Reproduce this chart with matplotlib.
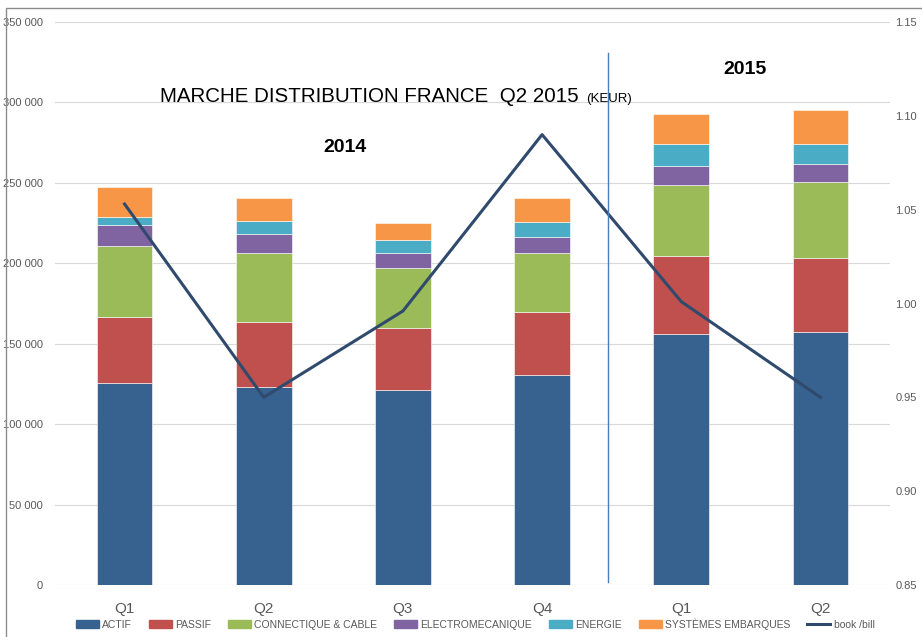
import matplotlib
matplotlib.use("Agg")
import matplotlib.pyplot as plt
from matplotlib.lines import Line2D
from matplotlib.patches import Patch
from matplotlib.ticker import FuncFormatter
import numpy as np

plt.rcParams['font.family'] = ['Liberation Sans', 'DejaVu Sans']

quarters = ["Q1", "Q2", "Q3", "Q4", "Q1", "Q2"]
segments = ["ACTIF", "PASSIF", "CONNECTIQUE & CABLE", "ELECTROMECANIQUE",
            "ENERGIE", "SYSTÈMES EMBARQUES"]
actif = [125800, 123300, 121200, 130600, 156000, 157100]
passif = [41000, 40400, 38600, 39300, 48700, 46000]
connectique = [44000, 42700, 37500, 36500, 44000, 47600]
electromecanique = [13000, 12000, 9100, 10100, 11800, 11000]
energie = [4800, 7900, 8100, 9400, 13500, 12300]
systemes = [18600, 14100, 10700, 14500, 18600, 21300]
book_bill = [1.053, 0.950, 0.996, 1.090, 1.001, 0.950]

colors = ["#37618F", "#C0504D", "#9BBB59", "#8064A2", "#4BACC6", "#F79646"]
line_color = "#2F4A6D"
grey = "#595959"

fig = plt.figure(figsize=(9.22, 6.37), dpi=100)
ax = fig.add_axes([55 / 922, 1 - 585 / 637, 835 / 922, 563 / 637])
ax2 = ax.twinx()

x = np.arange(len(quarters))
bottom = np.zeros(len(quarters))
for vals, col in zip([actif, passif, connectique, electromecanique,
                      energie, systemes], colors):
    ax.bar(x, vals, 0.4, bottom=bottom, color=col, zorder=2,
           edgecolor="white", linewidth=0.4)
    bottom += np.array(vals)

ax2.plot(x, book_bill, color=line_color, lw=2.2, zorder=3)

ax.set_xlim(-0.5, 5.5)
ax.set_ylim(0, 350000)
ax.set_yticks(np.arange(0, 350001, 50000))
ax.yaxis.set_major_formatter(
    FuncFormatter(lambda v, p: f"{int(v):,}".replace(",", " ")))
ax.grid(axis="y", color="#D9D9D9", lw=0.8, zorder=0)
ax.set_axisbelow(True)
ax.set_xticks(x)
ax.set_xticklabels(quarters)
ax.tick_params(axis="x", length=0, pad=12, labelsize=11, labelcolor=grey)
ax.tick_params(axis="y", length=0, pad=9, labelsize=8, labelcolor=grey)

ax2.set_ylim(0.85, 1.15)
ax2.set_yticks(np.arange(0.85, 1.151, 0.05))
ax2.yaxis.set_major_formatter(FuncFormatter(lambda v, p: f"{v:.2f}"))
ax2.tick_params(axis="y", length=0, pad=4, labelsize=8, labelcolor=grey)

for a in (ax, ax2):
    for s in a.spines.values():
        s.set_visible(False)

# titre et annotations
fig.text(160 / 922, 1 - 97 / 637, "MARCHE DISTRIBUTION FRANCE  Q2 2015",
         fontsize=14.8, va="center", ha="left")
fig.text(586 / 922, 1 - 99 / 637, "(KEUR)", fontsize=9.5, va="center",
         ha="left")
fig.text(345 / 922, 1 - 148 / 637, "2014", fontsize=14, fontweight="bold",
         ha="center", va="center")
fig.text(745 / 922, 1 - 70 / 637, "2015", fontsize=14, fontweight="bold",
         ha="center", va="center")

# séparation 2014 / 2015
fig.add_artist(Line2D([608 / 922, 608 / 922], [1 - 53 / 637, 1 - 582 / 637],
                      color="#4A7EBB", lw=1))
# cadre
fig.add_artist(Line2D([6 / 922, 6 / 922, 922 / 922],
                      [0, 1 - 8 / 637, 1 - 8 / 637], color="#8C8C8C", lw=1))

handles = [Patch(color=c) for c in colors]
handles.append(Line2D([0], [0], color=line_color, lw=2.2))
fig.legend(handles, segments + ["book /bill"], loc="center",
           bbox_to_anchor=(475 / 922, 1 - 624 / 637), ncol=7, frameon=False,
           fontsize=7.5, labelcolor=grey, handlelength=2.2, handleheight=0.7,
           handletextpad=0.3, columnspacing=1.65)

fig.savefig("out.png", dpi=100)
